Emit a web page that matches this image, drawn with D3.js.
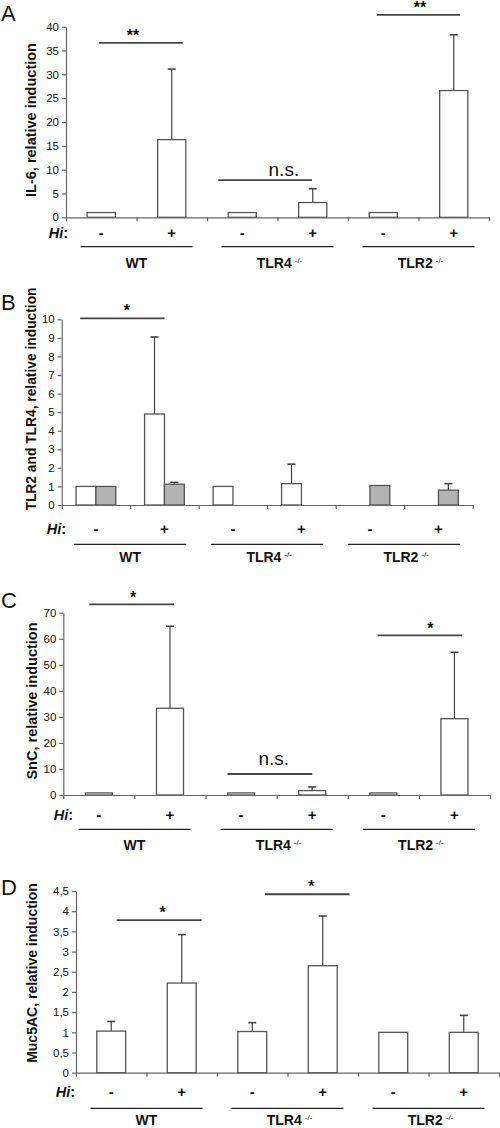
<!DOCTYPE html>
<html><head><meta charset="utf-8">
<script src="https://cdn.jsdelivr.net/npm/d3@7"></script>
<style>body{margin:0;background:#fff}svg{display:block}text{font-family:"Liberation Sans",Arial,sans-serif;fill:#111}</style>
</head><body><svg id="c" width="500" height="1128"></svg>
<script>
// ---------- data ----------
const groups = ["WT", "TLR4", "TLR2"];
const hiLevels = ["-", "+"];
const conditions = groups.flatMap(g => hiLevels.map(h => g + " " + h));

const il6Mean   = [1, 16.3, 1, 3.1, 1, 26.6];
const il6ErrTop = [null, 31.1, null, 6.0, null, 38.3];
const il6Ticks  = [0, 5, 10, 15, 20, 25, 30, 35, 40];
const il6SigLabels = ["**", "n.s.", "**"];
const il6SigHeights = [36.6, 7.8, 42.5];

const tlrSeries  = ["TLR2", "TLR4"];
const tlr2Mean   = [1, 4.9, 1, 1.15, null, null];
const tlr2ErrTop = [null, 9.05, null, 2.2, null, null];
const tlr4Mean   = [1, 1.12, null, null, 1.05, 0.8];
const tlr4ErrTop = [null, 1.22, null, null, null, 1.15];
const tlrTicks   = [0, 1, 2, 3, 4, 5, 6, 7, 8, 9, 10];
const tlrSigLabels = ["*"];
const tlrSigHeights = [10.05];

const sncMean   = [0.8, 33.3, 0.8, 1.7, 0.8, 29.3];
const sncErrTop = [null, 64.8, null, 3.1, null, 54.8];
const sncTicks  = [0, 10, 20, 30, 40, 50, 60, 70];
const sncSigLabels = ["*", "n.s.", "*"];
const sncSigHeights = [73.2, 8.06, 61.3];

const mucMean   = [1.03, 2.22, 1.02, 2.65, 1.0, 1.0];
const mucErrTop = [1.27, 3.42, 1.24, 3.88, null, 1.42];
const mucTicks  = [0, 0.5, 1, 1.5, 2, 2.5, 3, 3.5, 4, 4.5];
const mucSigLabels = ["*", "*"];
const mucSigHeights = [3.78, 4.42];

// ---------- layout ----------
const panels = [
  {letter:"A", letterY:20.5, x0:66, x1:489, yTop:26.7, y0:217.3, max:40, barFrac:0.4,
   series:[{mean:il6Mean, err:il6ErrTop, fill:"#fff"}], ticks:il6Ticks, fmt:d3.format("d"),
   ylabel:"IL-6, relative induction", ylabelSize:14.5, ylabelX:31, ylabelY:120,
   hiX:68, hiY:238, underY:246.7, groupY:268,
   sig:[{a:0.47,b:1.655,t:0.95,dy:-2},{a:2.16,b:3.49,t:3.09,dy:-4},{a:4.41,b:5.59,t:5.02,dy:-2}],
   sigLabels:il6SigLabels, sigHeights:il6SigHeights},
  {letter:"B", letterY:310, x0:61.7, x1:472.7, yTop:319.3, y0:505, max:10, barFrac:0.29,
   series:[{mean:tlr2Mean, err:tlr2ErrTop, fill:"#fff"},{mean:tlr4Mean, err:tlr4ErrTop, fill:"#b3b3b3"}],
   ticks:tlrTicks, fmt:d3.format("d"),
   ylabel:"TLR2 and TLR4, relative induction", ylabelSize:13.8, ylabelX:31, ylabelY:399,
   hiX:66, hiY:534, underY:544.3, groupY:561.5,
   sig:[{a:0.27,b:1.5,t:0.95,dy:-2}],
   sigLabels:tlrSigLabels, sigHeights:tlrSigHeights},
  {letter:"C", letterY:608, x0:63.3, x1:490, yTop:612.7, y0:795, max:70, barFrac:0.38,
   series:[{mean:sncMean, err:sncErrTop, fill:"#fff"}], ticks:sncTicks, fmt:d3.format("d"),
   ylabel:"SnC, relative induction", ylabelSize:14.5, ylabelX:31.5, ylabelY:701,
   hiX:73, hiY:820, underY:829.3, groupY:850,
   sig:[{a:0.366,b:1.557,t:0.98,dy:-1},{a:2.31,b:3.5,t:2.96,dy:-9},{a:4.42,b:5.61,t:5.16,dy:-1}],
   sigLabels:sncSigLabels, sigHeights:sncSigHeights},
  {letter:"D", letterY:895, x0:76, x1:499, yTop:891, y0:1072.7, max:4.5, barFrac:0.41,
   series:[{mean:mucMean, err:mucErrTop, fill:"#fff"}], ticks:mucTicks,
   fmt:v => d3.format("~g")(v).replace(".", ","),
   ylabel:"Muc5AC, relative induction", ylabelSize:14, ylabelX:32, ylabelY:973,
   hiX:75, hiY:1096.5, underY:1108.3, groupY:1125,
   sig:[{a:0.577,b:1.783,t:1.23,dy:-2},{a:2.68,b:3.88,t:3.34,dy:-2}],
   sigLabels:mucSigLabels, sigHeights:mucSigHeights}
];

const svg = d3.select("#c");

panels.forEach(p => {
  const g = svg.append("g");
  const x = d3.scaleBand().domain(conditions).range([p.x0, p.x1]).paddingInner(0).paddingOuter(0);
  const bw = x.bandwidth();
  const xu = d3.scaleLinear().domain([0, 6]).range([p.x0, p.x1]);
  const y = d3.scaleLinear().domain([0, p.max]).range([p.y0, p.yTop]);

  // panel letter
  g.append("text").attr("x", 1).attr("y", p.letterY).attr("font-size", 22).text(p.letter);

  // y label
  g.append("text")
    .attr("transform", `translate(${p.ylabelX + p.ylabelSize*0.36},${p.ylabelY}) rotate(-90)`)
    .attr("text-anchor", "middle").attr("font-weight", "bold").attr("font-size", p.ylabelSize)
    .text(p.ylabel);

  // bars
  const nS = p.series.length;
  const barW = bw * p.barFrac;
  p.series.forEach((s, si) => {
    const data = conditions.map((c, i) => ({c, v: s.mean[i], e: s.err[i]})).filter(d => d.v != null);
    const off = nS === 1 ? -barW / 2 : (si - nS / 2) * barW;
    // error bars
    const eg = g.append("g").attr("stroke", "#444").attr("stroke-width", 1.2);
    data.filter(d => d.e != null).forEach(d => {
      const cx = x(d.c) + bw / 2 + off + barW / 2;
      eg.append("line").attr("x1", cx).attr("x2", cx).attr("y1", y(d.v)).attr("y2", y(d.e));
      eg.append("line").attr("x1", cx - 4).attr("x2", cx + 4).attr("y1", y(d.e)).attr("y2", y(d.e)).attr("stroke-width", 1.6);
    });
    g.append("g").selectAll("rect").data(data).join("rect")
      .attr("x", d => x(d.c) + bw / 2 + off)
      .attr("y", d => y(d.v))
      .attr("width", barW)
      .attr("height", d => y(0) - y(d.v))
      .attr("fill", s.fill).attr("stroke", "#555").attr("stroke-width", 1.3);
  });

  // y axis
  const ya = g.append("g").attr("transform", `translate(${p.x0},0)`)
    .call(d3.axisLeft(y).tickValues(p.ticks).tickFormat(p.fmt).tickSize(4).tickSizeOuter(0).tickPadding(3));
  ya.selectAll("path,line").attr("stroke", "#666").attr("stroke-width", 1.2);
  ya.selectAll("text").attr("font-size", 11.5).attr("font-family", '"Liberation Sans",Arial,sans-serif').attr("fill", "#111");

  // x axis (band boundaries)
  const xa = g.append("g").attr("transform", `translate(0,${p.y0})`)
    .call(d3.axisBottom(xu).tickValues(d3.range(7)).tickFormat("").tickSize(4).tickSizeOuter(0));
  xa.selectAll("path,line").attr("stroke", "#666").attr("stroke-width", 1.2);

  // Hi row
  const hi = g.append("text").attr("x", p.hiX).attr("y", p.hiY).attr("text-anchor", "end")
    .attr("font-size", 14.5).attr("font-weight", "bold");
  hi.append("tspan").attr("font-style", "italic").text("Hi");
  hi.append("tspan").text(":");
  g.append("g").selectAll("text").data(conditions).join("text")
    .attr("x", d => x(d) + bw / 2).attr("y", p.hiY)
    .attr("text-anchor", "middle").attr("font-size", 15).attr("font-weight", "bold")
    .text(d => d.split(" ")[1]);

  // group underlines + labels
  groups.forEach((gr, gi) => {
    const cx = xu(gi * 2 + 1);
    g.append("line").attr("x1", cx - 56).attr("x2", cx + 56).attr("y1", p.underY).attr("y2", p.underY)
      .attr("stroke", "#222").attr("stroke-width", 1.3);
    const t = g.append("text").attr("x", cx + (gr === "WT" ? 0 : 2)).attr("y", p.groupY)
      .attr("text-anchor", "middle").attr("font-size", 14).attr("font-weight", "bold");
    t.append("tspan").text(gr);
    if (gr !== "WT") {
      t.append("tspan").attr("font-size", 8).attr("font-weight", "normal").attr("dy", -5).attr("dx", 3).text("-/-");
    }
  });

  // significance annotations
  p.sig.forEach((s, i) => {
    const ly = y(p.sigHeights[i]);
    g.append("line").attr("x1", xu(s.a)).attr("x2", xu(s.b)).attr("y1", ly).attr("y2", ly)
      .attr("stroke", "#444").attr("stroke-width", 1.8);
    const lab = p.sigLabels[i];
    g.append("text").attr("x", xu(s.t)).attr("y", ly + s.dy).attr("text-anchor", "middle")
      .attr("font-size", lab === "n.s." ? 19 : 16).attr("font-weight", lab === "n.s." ? "normal" : "bold")
      .text(lab);
  });
});
</script></body></html>
